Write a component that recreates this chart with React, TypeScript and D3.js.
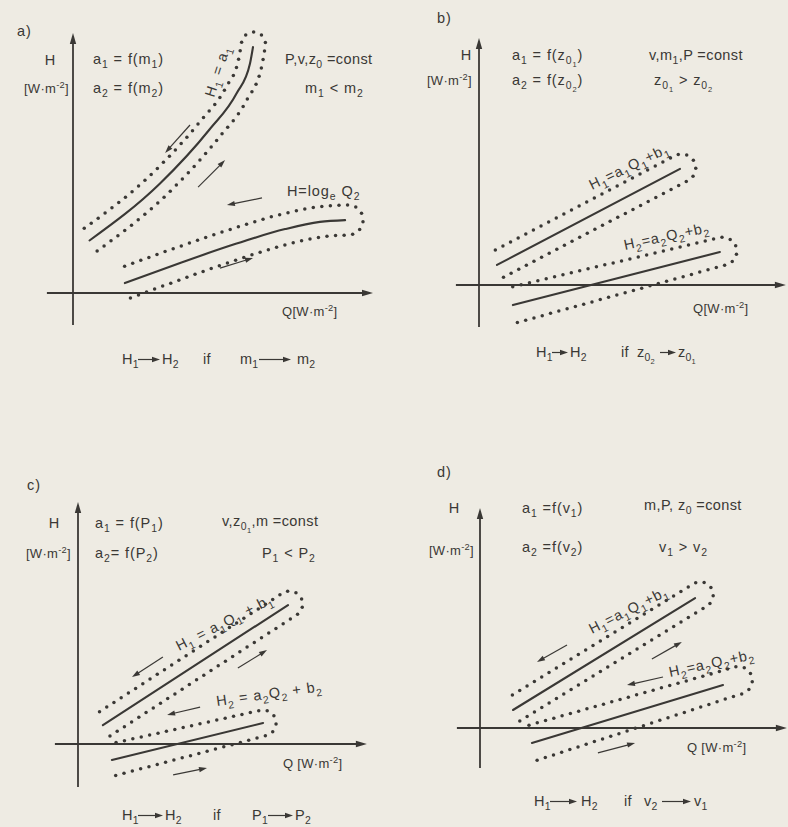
import React, { useEffect, useRef } from 'react';
import * as d3 from 'd3';

// ---------------- data (diagram units; origin = axes crossing) ----------------
const panelIds = ['a', 'b', 'c', 'd'];

const curveA1 = [[5.5, 17.5], [29, 36.5], [45.5, 54.5], [54.5, 66.5], [59, 76.5], [60, 82]];
const curveA2 = [[17.3, 3.3], [35.7, 10], [54, 16.3], [70.7, 21.3], [82.3, 23.7], [90.7, 24.3]];
const lineB1 = [[6, 6.7], [67, 38.7]];
const lineB2 = [[11.3, -6.7], [80.3, 11]];
const lineC1 = [[8.3, 6.3], [70, 46.3]];
const lineC2 = [[11.3, -5.3], [61.7, 7]];
const lineD1 = [[11, 6], [71.7, 43.3]];
const lineD2 = [[17.3, -5], [81, 14.3]];

const xAxisExtent = [[-8.7, 100], [-7.7, 102.3], [-7.7, 96.3], [-7.7, 102.3]];
const yAxisExtent = [[-10.7, 86.7], [-14, 82.3], [-14.3, 80.7], [-13.3, 73.3]];

// direction arrows: [x1, y1, x2, y2]
const arrowsA = [[39, 56, 30.7, 46.7], [41.7, 35.3, 50.7, 44.3], [63, 31.7, 51.3, 29.3], [49, 8.3, 60, 11.7]];
const arrowsB: number[][] = [];
const arrowsC = [[28.3, 29, 18, 22.3], [53.3, 25.3, 63, 31.3], [40.7, 12.3, 29.7, 9.7], [31.7, -10.3, 43, -8]];
const arrowsD = [[29, 27.7, 19, 22], [57.3, 23, 67.3, 28.7], [61, 17, 49, 14.3], [39.3, -8.3, 51.7, -5]];

// texts
const panelLetters = ['a)', 'b)', 'c)', 'd)'];
const yName = 'H';
const yUnit = '[W·m^{-2}]';
const xLabels = ['Q[W·m^{-2}]', 'Q[W·m^{-2}]', 'Q [W·m^{-2}]', 'Q [W·m^{-2}]'];
const relation1 = ['a_1 = f(m_1)', 'a_1 = f(z_{0_1})', 'a_1 = f(P_1)', 'a_1 =f(v_1)'];
const relation2 = ['a_2 = f(m_2)', 'a_2 = f(z_{0_2})', 'a_2= f(P_2)', 'a_2 =f(v_2)'];
const constants = ['P,v,z_0 =const', 'v,m_1,P =const', 'v,z_{0_1},m =const', 'm,P, z_0 =const'];
const inequalities = ['m_1 < m_2', 'z_{0_1} > z_{0_2}', 'P_1 < P_2', 'v_1 > v_2'];
const curveLabels1 = ['H_1 = a_1', 'H_1=a_1Q_1+b_1', 'H_1 = a_1Q_1 + b_1', 'H_1=a_1Q_1+b_1'];
const curveLabels2 = ['H=log_e Q_2', 'H_2=a_2Q_2+b_2', 'H_2 = a_2Q_2 + b_2', 'H_2=a_2Q_2+b_2'];
const captionFrom = ['H_1', 'H_1', 'H_1', 'H_1'];
const captionTo = ['H_2', 'H_2', 'H_2', 'H_2'];
const captionIf = ['if', 'if', 'if', 'if'];
const conditionFrom = ['m_1', 'z_{0_2}', 'P_1', 'v_2'];
const conditionTo = ['m_2', 'z_{0_1}', 'P_2', 'v_1'];

// ---------------- layout / style ----------------
const INK = '#3a3835';
const BG = '#eeebe3';
const FONT = '"Liberation Sans", Arial, sans-serif';
const UNIT = 3;

const origins: Record<string, [number, number]> = {
  a: [73, 293], b: [479, 285], c: [78, 744], d: [480, 728],
};

const curvesByPanel: Record<string, number[][][]> = {
  a: [curveA1, curveA2], b: [lineB1, lineB2], c: [lineC1, lineC2], d: [lineD1, lineD2],
};
const arrowsByPanel: Record<string, number[][]> = { a: arrowsA, b: arrowsB, c: arrowsC, d: arrowsD };

// envelope: [offset at start, offset at end, extension beyond end] in px
const envelopeStyle: Record<string, number[][]> = {
  a: [[13, 12, 3], [16, 15, 3]],
  b: [[14, 14, 2], [18, 14, 3]],
  c: [[13, 13, 2], [16, 13, 0]],
  d: [[13, 13, 6], [18, 14, 16]],
};

const layout: Record<string, any> = {
  a: {
    letter: [17, 36], H: [56, 65, 'end'], unit: [69, 93, 'end'], rel1: [93, 64], rel2: [93, 93],
    cst: [285, 64], ineq: [305, 93], lab1: [214, 98, -72], lab2: [287, 196, 0], xlab: [282, 316],
    cap: { y: 364, h1: 122, a1: [138, 160], h2: 162, iff: 203, f: 240, a2: [259, 291], t: 297 },
  },
  b: {
    letter: [437, 23], H: [472, 60, 'end'], unit: [472, 85, 'end'], rel1: [512, 60], rel2: [512, 85],
    cst: [649, 60], ineq: [654, 85], lab1: [592, 190, -26], lab2: [625, 250, -12], xlab: [693, 313],
    cap: { y: 357, h1: 536, a1: [552, 568], h2: 570, iff: 621, f: 637, a2: [660, 676], t: 678 },
  },
  c: {
    letter: [27, 490], H: [60, 528, 'end'], unit: [71, 558, 'end'], rel1: [95, 528], rel2: [95, 558],
    cst: [222, 526], ineq: [262, 558], lab1: [179, 651, -27], lab2: [217, 706, -8], xlab: [283, 768],
    cap: { y: 820, h1: 122, a1: [138, 163], h2: 165, iff: 213, f: 252, a2: [268, 293], t: 295 },
  },
  d: {
    letter: [437, 477], H: [460, 513, 'end'], unit: [474, 555, 'end'], rel1: [522, 513], rel2: [522, 552],
    cst: [644, 510], ineq: [659, 552], lab1: [592, 634, -27], lab2: [670, 677, -12], xlab: [687, 752],
    cap: { y: 806, h1: 534, a1: [550, 577], h2: 581, iff: 624, f: 644, a2: [662, 691], t: 694 },
  },
};

// ---------------- rich text (sub/superscripts) ----------------
type Seg = { t: string; off: number; sc: number };
function parse(s: string, off = 0, sc = 1): Seg[] {
  const out: Seg[] = [];
  let i = 0;
  let buf = '';
  const flush = () => { if (buf) { out.push({ t: buf, off, sc }); buf = ''; } };
  while (i < s.length) {
    const c = s[i];
    if (c === '_' || c === '^') {
      flush();
      let inner: string;
      if (s[i + 1] === '{') {
        let depth = 1;
        let j = i + 2;
        while (j < s.length && depth > 0) {
          if (s[j] === '{') depth++;
          else if (s[j] === '}') depth--;
          j++;
        }
        inner = s.slice(i + 2, j - 1);
        i = j;
      } else {
        inner = s[i + 1];
        i += 2;
      }
      const noff = off + (c === '_' ? 0.3 : -0.42) * sc;
      out.push(...parse(inner, noff, sc * 0.72));
    } else {
      buf += c;
      i++;
    }
  }
  flush();
  return out;
}

function Rich({ x, y, s, size = 14.5, anchor = 'start', angle = 0, ls = 0.9 }:
  { x: number; y: number; s: string; size?: number; anchor?: string; angle?: number; ls?: number }) {
  const segs = parse(s);
  let cur = 0;
  return (
    <text
      x={0}
      y={0}
      transform={`translate(${x},${y}) rotate(${angle})`}
      fontSize={size}
      textAnchor={anchor as any}
      fill={INK}
      fontFamily={FONT}
      letterSpacing={ls}
      style={{ whiteSpace: 'pre' }}
    >
      {segs.map((g, k) => {
        const dy = (g.off - cur) * size;
        cur = g.off;
        return (
          <tspan key={k} dy={dy} fontSize={g.sc * size}>{g.t}</tspan>
        );
      })}
    </text>
  );
}

function arrowHead(g: any, x1: number, y1: number, x2: number, y2: number, len: number, hw: number) {
  const a = Math.atan2(y2 - y1, x2 - x1);
  const c = Math.cos(a), s = Math.sin(a);
  const bx = x2 - len * c, by = y2 - len * s;
  g.append('line').attr('x1', x1).attr('y1', y1).attr('x2', bx + c).attr('y2', by + s)
    .attr('stroke', INK).attr('stroke-width', 1.2);
  g.append('polygon')
    .attr('points', [[x2, y2], [bx + hw * s, by - hw * c], [bx - hw * s, by + hw * c]].map(p => p.join(',')).join(' '))
    .attr('fill', INK);
}

export default function App() {
  const gRef = useRef<SVGGElement>(null);

  useEffect(() => {
    const root = d3.select(gRef.current);
    root.selectAll('*').remove();

    panelIds.forEach((id, pi) => {
      const [ox, oy] = origins[id];
      const x = d3.scaleLinear().domain([0, 100]).range([ox, ox + 100 * UNIT]);
      const y = d3.scaleLinear().domain([0, 100]).range([oy, oy - 100 * UNIT]);
      const g = root.append('g');

      // axes
      const [xa, xb] = xAxisExtent[pi];
      const [ya, yb] = yAxisExtent[pi];
      g.append('line').attr('x1', x(xa)).attr('y1', y(0)).attr('x2', x(xb) - 8).attr('y2', y(0))
        .attr('stroke', INK).attr('stroke-width', 1.8);
      g.append('polygon')
        .attr('points', `${x(xb)},${y(0)} ${x(xb) - 11},${y(0) - 3.2} ${x(xb) - 11},${y(0) + 3.2}`)
        .attr('fill', INK);
      g.append('line').attr('x1', x(0)).attr('y1', y(ya)).attr('x2', x(0)).attr('y2', y(yb) + 8)
        .attr('stroke', INK).attr('stroke-width', 1.8);
      g.append('polygon')
        .attr('points', `${x(0)},${y(yb)} ${x(0) - 3.2},${y(yb) + 11} ${x(0) + 3.2},${y(yb) + 11}`)
        .attr('fill', INK);

      // curves + dotted envelopes
      curvesByPanel[id].forEach((pts, ci) => {
        const line = d3.line<number[]>()
          .x(d => x(d[0])).y(d => y(d[1]))
          .curve(pts.length > 2 ? d3.curveMonotoneX : d3.curveLinear);
        const path = g.append('path').attr('d', line(pts) as string)
          .attr('fill', 'none').attr('stroke', INK).attr('stroke-width', 2.1).attr('stroke-linecap', 'round');
        const node = path.node() as SVGPathElement;
        const L = node.getTotalLength();
        const [o0, o1, ext] = envelopeStyle[id][ci];
        const N = 90;
        const center: { x: number; y: number; tx: number; ty: number; o: number }[] = [];
        for (let i = 0; i <= N; i++) {
          const s = (L * i) / N;
          const p = node.getPointAtLength(s);
          const q = node.getPointAtLength(Math.min(L, s + 1));
          const r = node.getPointAtLength(Math.max(0, s - 1));
          let tx = q.x - r.x, ty = q.y - r.y;
          const m = Math.hypot(tx, ty) || 1;
          tx /= m; ty /= m;
          center.push({ x: p.x, y: p.y, tx, ty, o: o0 + (o1 - o0) * (i / N) });
        }
        const last = center[N];
        if (ext > 0) {
          center.push({ x: last.x + last.tx * ext, y: last.y + last.ty * ext, tx: last.tx, ty: last.ty, o: o1 });
        }
        const outline: [number, number][] = [];
        center.forEach(c => outline.push([c.x - c.ty * c.o, c.y + c.tx * c.o]));
        const e = center[center.length - 1];
        const at = Math.atan2(e.ty, e.tx);
        for (let k = 1; k < 24; k++) {
          const a = at + Math.PI / 2 - (Math.PI * k) / 24;
          outline.push([e.x + Math.cos(a) * e.o, e.y + Math.sin(a) * e.o]);
        }
        for (let i = center.length - 1; i >= 0; i--) {
          const c = center[i];
          outline.push([c.x + c.ty * c.o, c.y - c.tx * c.o]);
        }
        // equally spaced dots along outline
        const gap = 8.6;
        let acc = 0;
        let next = 0;
        for (let i = 1; i < outline.length; i++) {
          const [ax, ay] = outline[i - 1];
          const [bx, by] = outline[i];
          const seg = Math.hypot(bx - ax, by - ay);
          while (next <= acc + seg) {
            const t = seg ? (next - acc) / seg : 0;
            g.append('circle').attr('cx', ax + (bx - ax) * t).attr('cy', ay + (by - ay) * t)
              .attr('r', 1.75).attr('fill', INK);
            next += gap;
          }
          acc += seg;
        }
      });

      // direction arrows
      arrowsByPanel[id].forEach(a => arrowHead(g, x(a[0]), y(a[1]), x(a[2]), y(a[3]), 8, 2.6));

      // caption arrows
      const cap = layout[id].cap;
      arrowHead(g, cap.a1[0], cap.y - 4.5, cap.a1[1], cap.y - 4.5, 8, 2.8);
      arrowHead(g, cap.a2[0], cap.y - 4.5, cap.a2[1], cap.y - 4.5, 8, 2.8);
    });
  }, []);

  return (
    <svg width={788} height={827} style={{ position: 'absolute', left: 0, top: 0 }}>
      <rect x={0} y={0} width={788} height={827} fill={BG} />
      <g ref={gRef} />
      {panelIds.map((id, pi) => {
        const L = layout[id];
        const cap = L.cap;
        return (
          <g key={id}>
            <Rich x={L.letter[0]} y={L.letter[1]} s={panelLetters[pi]} />
            <Rich x={L.H[0]} y={L.H[1]} s={yName} anchor="end" />
            <Rich x={L.unit[0]} y={L.unit[1]} s={yUnit} anchor="end" size={13} ls={0.3} />
            <Rich x={L.rel1[0]} y={L.rel1[1]} s={relation1[pi]} />
            <Rich x={L.rel2[0]} y={L.rel2[1]} s={relation2[pi]} />
            <Rich x={L.cst[0]} y={L.cst[1]} s={constants[pi]} ls={0.4} />
            <Rich x={L.ineq[0]} y={L.ineq[1]} s={inequalities[pi]} />
            <Rich x={L.lab1[0]} y={L.lab1[1]} s={curveLabels1[pi]} angle={L.lab1[2]} />
            <Rich x={L.lab2[0]} y={L.lab2[1]} s={curveLabels2[pi]} angle={L.lab2[2]} />
            <Rich x={L.xlab[0]} y={L.xlab[1]} s={xLabels[pi]} size={13} ls={0.3} />
            <Rich x={cap.h1} y={cap.y} s={captionFrom[pi]} ls={0.2} />
            <Rich x={cap.h2} y={cap.y} s={captionTo[pi]} ls={0.2} />
            <Rich x={cap.iff} y={cap.y} s={captionIf[pi]} ls={0.2} />
            <Rich x={cap.f} y={cap.y} s={conditionFrom[pi]} ls={0.2} />
            <Rich x={cap.t} y={cap.y} s={conditionTo[pi]} ls={0.2} />
          </g>
        );
      })}
    </svg>
  );
}
